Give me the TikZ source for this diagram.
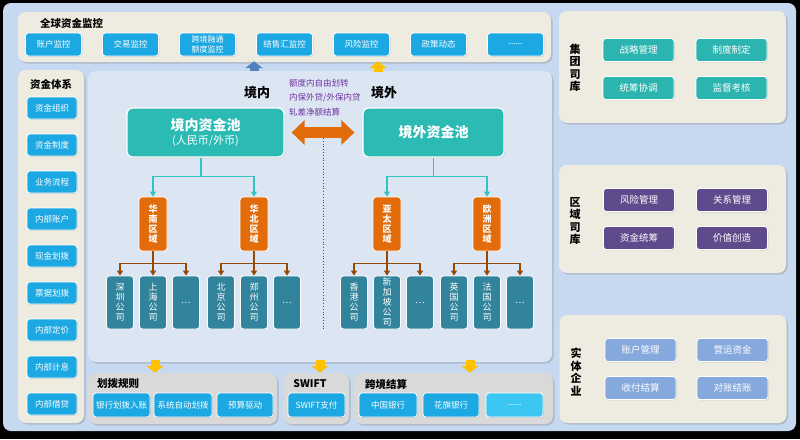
\documentclass[tikz,border=0pt]{standalone}
\usepackage{fontspec}
\setmainfont{Noto Sans CJK SC}
\usetikzlibrary{arrows.meta, positioning, shadows, calc}
\definecolor{panelbg}{HTML}{C6D9F1}
\definecolor{cream}{HTML}{EEECE1}
\definecolor{corebg}{HTML}{DCE6F2}
\definecolor{btnblue}{HTML}{1CA8E2}
\definecolor{btnlight}{HTML}{3CC6F2}
\definecolor{poolteal}{HTML}{2BBAB4}
\definecolor{regorange}{HTML}{E36C0A}
\definecolor{compteal}{HTML}{31849B}
\definecolor{linkteal}{HTML}{33C3C0}
\definecolor{linkbrown}{HTML}{974806}
\definecolor{notepurple}{HTML}{7030A0}
\definecolor{grpteal}{HTML}{2CB5B0}
\definecolor{regpurple}{HTML}{5F4B8B}
\definecolor{entblue}{HTML}{86A9DD}
\definecolor{graybox}{HTML}{D9D9D9}
\definecolor{arrowyellow}{HTML}{FFC000}
\definecolor{arrowblue}{HTML}{4F81BD}
\tikzset{
    panel/.style={
        rectangle, rounded corners=8pt, fill=cream, inner sep=0pt,
        drop shadow={shadow xshift=1.5pt, shadow yshift=-1.5pt, opacity=0.35}
    },
    graypanel/.style={panel, fill=graybox},
    corepanel/.style={panel, fill=corebg},
    boxtitle/.style={font=\fontsize{10.5}{12}\selectfont\bfseries, inner sep=0pt},
    vtitle/.style={font=\fontsize{11}{12.5}\selectfont\bfseries, align=center, inner sep=0pt},
    side/.style={font=\fontsize{13}{15}\selectfont\bfseries, inner sep=0pt},
    btn/.style={
        rectangle, rounded corners=3pt, draw=white, line width=0.8pt, fill=btnblue,
        text=white, font=\fontsize{8.5}{10}\selectfont, align=center, inner sep=0pt,
        minimum width=54pt, minimum height=22pt,
        drop shadow={shadow xshift=0.8pt, shadow yshift=-0.8pt, opacity=0.3}
    },
    topbtn/.style={btn, minimum width=56pt, minimum height=23pt},
    sidebtn/.style={btn, minimum width=50pt},
    rulebtn/.style={btn, minimum height=24pt},
    grpbtn/.style={btn, fill=grpteal, minimum width=71pt, minimum height=23pt,
        font=\fontsize{9.5}{11}\selectfont},
    regbtn/.style={grpbtn, fill=regpurple},
    entbtn/.style={grpbtn, fill=entblue},
    pool/.style={
        rectangle, rounded corners=6pt, draw=white, line width=1.2pt, fill=poolteal,
        text=white, align=center, inner sep=0pt, minimum height=49pt,
        font=\fontsize{14}{16}\selectfont\bfseries,
        drop shadow={shadow xshift=1pt, shadow yshift=-1pt, opacity=0.3}
    },
    region/.style={
        rectangle, rounded corners=3pt, draw=white, line width=0.8pt, fill=regorange,
        text=white, align=center, inner sep=0pt, minimum width=28pt, minimum height=54pt,
        font=\fontsize{9}{10}\selectfont\bfseries
    },
    company/.style={
        rectangle, rounded corners=3pt, draw=white, line width=0.8pt, fill=compteal,
        text=white, align=center, inner sep=0pt, minimum width=27pt, minimum height=53pt,
        font=\fontsize{9}{10}\selectfont
    },
    note/.style={text=notepurple, align=left, inner sep=0pt, font=\fontsize{8.5}{14.5}\selectfont},
    teallink/.style={draw=linkteal, line width=1.2pt, -{Triangle[length=5pt, width=6pt]}},
    brownlink/.style={draw=linkbrown, line width=1.2pt, -{Triangle[length=5pt, width=6pt]}},
    exchange/.style={draw=regorange, line width=11pt,
        {Triangle[length=13pt, width=24pt]}-{Triangle[length=13pt, width=24pt]}},
    yblock/.style={draw=arrowyellow, line width=9pt, -{Triangle[length=7pt, width=17pt]}},
    bblock/.style={yblock, draw=arrowblue},
    divider/.style={draw=red, dotted, line width=0.8pt}
}

\begin{document}
\begin{tikzpicture}[x=1pt, y=-1pt]

    \useasboundingbox (0,0) rectangle (800,439);
    \fill[black] (0,0) rectangle (800,439);
    \fill[panelbg, rounded corners=8pt] (3,3) rectangle (796,431);

    % global monitoring bar
    \node[panel, minimum width=533pt, minimum height=50pt] (gmon) at (284.5,37) {};
    \node[boxtitle, anchor=west]      (gmontitle) at (40,23) {全球资金监控};
    \node[topbtn]                     (mon1) at (53.5,44.5) {账户监控};
    \node[topbtn, right=20.2pt of mon1] (mon2) {交易监控};
    \node[topbtn, right=20.2pt of mon2, font=\fontsize{8}{9.5}\selectfont] (mon3) {跨境融通\\额度监控};
    \node[topbtn, right=20.2pt of mon3] (mon4) {结售汇监控};
    \node[topbtn, right=20.2pt of mon4] (mon5) {风险监控};
    \node[topbtn, right=20.2pt of mon5] (mon6) {政策动态};
    \node[topbtn, right=20.2pt of mon6] (mon7) {......};

    % fund system column
    \node[panel, minimum width=66pt, minimum height=353pt] (fsys) at (51,246.5) {};
    \node[boxtitle]                      (fsystitle) at (51,84) {资金体系};
    \node[sidebtn]                       (sys1) at (52,108) {资金组织};
    \node[sidebtn, below=14.2pt of sys1] (sys2) {资金制度};
    \node[sidebtn, below=14.2pt of sys2] (sys3) {业务流程};
    \node[sidebtn, below=14.2pt of sys3] (sys4) {内部账户};
    \node[sidebtn, below=14.2pt of sys4] (sys5) {现金划拨};
    \node[sidebtn, below=14.2pt of sys5] (sys6) {票据划拨};
    \node[sidebtn, below=14.2pt of sys6] (sys7) {内部定价};
    \node[sidebtn, below=14.2pt of sys7] (sys8) {内部计息};
    \node[sidebtn, below=14.2pt of sys8] (sys9) {内部借贷};

    % core panel
    \node[corepanel, minimum width=464pt, minimum height=291pt] (core) at (320,216.5) {};
    \node[side] (inland)  at (257,93) {境内};
    \node[side] (abroad)  at (384,93) {境外};
    \node[note, anchor=west] (notes) at (289,97.5) {额度内自由划转\\内保外贷/外保内贷\\轧差净额结算};

    \node[pool, minimum width=157pt] (poolin)  at (205.5,132.5) {境内资金池\\[-2pt]{\fontsize{11}{13}\selectfont\mdseries (人民币/外币)}};
    \node[pool, minimum width=141pt] (poolout) at (433.5,132.5) {境外资金池};

    \node[region] (hn) at (153,224) {华\\南\\区\\域};
    \node[region] (hb) at (254,224) {华\\北\\区\\域};
    \node[region] (yt) at (387,224) {亚\\太\\区\\域};
    \node[region] (oz) at (487,224) {欧\\洲\\区\\域};

    \node[company] (hn1) at (120,302.5) {深\\圳\\公\\司};
    \node[company] (hn2) at (153,302.5) {上\\海\\公\\司};
    \node[company] (hn3) at (186,302.5) {…};
    \node[company] (hb1) at (221,302.5) {北\\京\\公\\司};
    \node[company] (hb2) at (254,302.5) {郑\\州\\公\\司};
    \node[company] (hb3) at (287,302.5) {…};
    \node[company] (yt1) at (354,302.5) {香\\港\\公\\司};
    \node[company] (yt2) at (387,302.5) {新\\加\\坡\\公\\司};
    \node[company] (yt3) at (420,302.5) {…};
    \node[company] (oz1) at (454,302.5) {英\\国\\公\\司};
    \node[company] (oz2) at (487,302.5) {法\\国\\公\\司};
    \node[company] (oz3) at (520,302.5) {…};

    \coordinate (divtop) at (323,138);
    \coordinate (divbot) at (323,330);
    \draw[divider] (divtop) -- (divbot);

    \draw[exchange, shorten <=7pt, shorten >=8pt] (poolin.east) -- (poolout.west);

    \draw[teallink] ([xshift=-4.5pt]poolin.south) -- ++(0,19) -| (hn.north);
    \draw[teallink] ([xshift=-4.5pt]poolin.south) -- ++(0,19) -| (hb.north);
    \draw[teallink] (poolout.south) -- ++(0,19) -| (yt.north);
    \draw[teallink] (poolout.south) -- ++(0,19) -| (oz.north);

    \draw[brownlink] (hn.south) -- ++(0,12) -| (hn1.north);
    \draw[brownlink] (hn.south) -- (hn2.north);
    \draw[brownlink] (hn.south) -- ++(0,12) -| (hn3.north);
    \draw[brownlink] (hb.south) -- ++(0,12) -| (hb1.north);
    \draw[brownlink] (hb.south) -- (hb2.north);
    \draw[brownlink] (hb.south) -- ++(0,12) -| (hb3.north);
    \draw[brownlink] (yt.south) -- ++(0,12) -| (yt1.north);
    \draw[brownlink] (yt.south) -- (yt2.north);
    \draw[brownlink] (yt.south) -- ++(0,12) -| (yt3.north);
    \draw[brownlink] (oz.south) -- ++(0,12) -| (oz1.north);
    \draw[brownlink] (oz.south) -- (oz2.north);
    \draw[brownlink] (oz.south) -- ++(0,12) -| (oz3.north);

    % bottom rules
    \node[graypanel, minimum width=189pt, minimum height=51pt] (rule)  at (182.5,398.5) {};
    \node[graypanel, minimum width=66pt,  minimum height=51pt] (swift) at (316,398.5) {};
    \node[graypanel, minimum width=199pt, minimum height=51pt] (xb)    at (453.5,398.5) {};
    \node[boxtitle, anchor=west] (ruletitle)  at (97,384)  {划拨规则};
    \node[boxtitle]              (swifttitle) at (310,384) {SWIFT};
    \node[boxtitle, anchor=west] (xbtitle)    at (365,384) {跨境结算};

    \node[rulebtn, minimum width=57pt] (rule1) at (121.5,405) {银行划拨入账};
    \node[rulebtn, minimum width=58pt] (rule2) at (183,405)   {系统自动划拨};
    \node[rulebtn, minimum width=56pt] (rule3) at (245,405)   {预算驱动};
    \node[rulebtn, minimum width=57pt] (swift1) at (316.5,405) {SWIFT支付};
    \node[rulebtn, minimum width=58pt] (xb1) at (388,405)   {中国银行};
    \node[rulebtn, minimum width=56pt] (xb2) at (451,405)   {花旗银行};
    \node[rulebtn, minimum width=57pt, fill=btnlight] (xb3) at (514.5,405) {......};

    \coordinate (up1) at (378,72);
    \draw[bblock, shorten >=-1pt] (core.north -| hb.north) -- (gmon.south -| hb.north);
    \draw[yblock, shorten >=-1pt] (up1) -- (up1 |- gmon.south);

    \coordinate (dn1) at (155,360);
    \coordinate (dn2) at (320,360);
    \coordinate (dn3) at (470,360);
    \draw[yblock] (dn1) -- (dn1 |- rule.north);
    \draw[yblock] (dn2) -- (dn2 |- swift.north);
    \draw[yblock] (dn3) -- (dn3 |- xb.north);

    % right side
    \node[panel, minimum width=227pt, minimum height=112pt] (grp) at (672.5,67) {};
    \node[vtitle] (grptitle) at (575,68) {集\\团\\司\\库};
    \node[grpbtn]                        (grp1) at (638.5,50) {战略管理};
    \node[grpbtn, right=21.2pt of grp1]  (grp2) {制度制定};
    \node[grpbtn, below=14.2pt of grp1]  (grp3) {统筹协调};
    \node[grpbtn, right=21.2pt of grp3]  (grp4) {监督考核};

    \node[panel, minimum width=227pt, minimum height=108pt] (reg) at (672.5,219) {};
    \node[vtitle] (regtitle) at (575,221) {区\\域\\司\\库};
    \node[regbtn]                        (reg1) at (639,200) {风险管理};
    \node[regbtn, right=21.2pt of reg1]  (reg2) {关系管理};
    \node[regbtn, below=14.2pt of reg1]  (reg3) {资金统筹};
    \node[regbtn, right=21.2pt of reg3]  (reg4) {价值创造};

    \node[panel, minimum width=227pt, minimum height=108pt] (ent) at (673,369) {};
    \node[vtitle] (enttitle) at (576,372) {实\\体\\企\\业};
    \node[entbtn]                        (ent1) at (640.5,350) {账户管理};
    \node[entbtn, right=20.2pt of ent1]  (ent2) {营运资金};
    \node[entbtn, below=14.2pt of ent1]  (ent3) {收付结算};
    \node[entbtn, right=20.2pt of ent3]  (ent4) {对账结账};

\end{tikzpicture}
\end{document}
